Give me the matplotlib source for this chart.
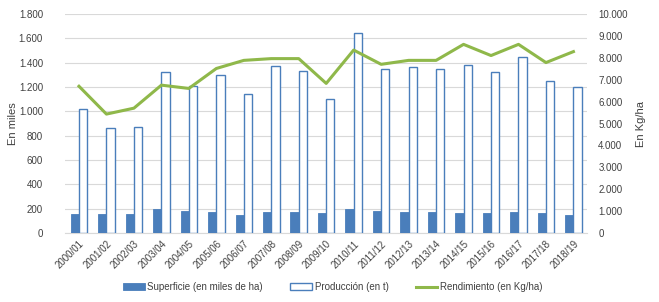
import matplotlib
matplotlib.use("Agg")
import matplotlib.pyplot as plt
import numpy as np
from matplotlib.ticker import FuncFormatter

plt.rcParams['font.family'] = ['Liberation Sans', 'DejaVu Sans']

campaigns = ["2000/01", "2001/02", "2002/03", "2003/04", "2004/05", "2005/06", "2006/07",
             "2007/08", "2008/09", "2009/10", "2010/11", "2011/12", "2012/13", "2013/14",
             "2014/15", "2015/16", "2016/17", "2017/18", "2018/19"]
superficie = [160, 160, 160, 197, 180, 175, 145, 175, 175, 165, 197, 178, 175, 175,
              165, 165, 175, 165, 145]
produccion = [1020, 860, 870, 1320, 1212, 1295, 1140, 1370, 1335, 1100, 1640, 1345,
              1360, 1345, 1377, 1322, 1444, 1253, 1196]
rendimiento = [6700, 5430, 5700, 6750, 6600, 7510, 7880, 7960, 7960, 6830, 8350, 7700,
               7880, 7880, 8610, 8100, 8610, 7780, 8280]

blue = "#4a7ebb"
green = "#8fb84a"
grid = "#d9d9d9"
txt = "#404040"

fig = plt.figure(figsize=(6.59, 3.02), dpi=100)
ax = fig.add_axes([0.099, 0.228, 0.792, 0.726])
ax2 = ax.twinx()

x = np.arange(len(campaigns))
w = 0.3
ax.bar(x - w / 2, superficie, width=w, color=blue, edgecolor=blue, linewidth=0.6,
       label="Superficie (en miles de ha)", zorder=3)
ax.bar(x + w / 2, produccion, width=w, facecolor="white", edgecolor=blue, linewidth=1.0,
       label="Producción (en t)", zorder=3)
ax2.plot(x, rendimiento, color=green, linewidth=2.2, label="Rendimiento (en Kg/ha)", zorder=4)

fmt = FuncFormatter(lambda v, p: f"{int(v):,}".replace(",", "."))
ax.set_ylim(0, 1800)
ax.set_yticks(np.arange(0, 1801, 200))
ax.yaxis.set_major_formatter(fmt)
ax2.set_ylim(0, 10000)
ax2.set_yticks(np.arange(0, 10001, 1000))
ax2.yaxis.set_major_formatter(fmt)
ax.set_xlim(-0.5, len(campaigns) - 0.5)
ax.set_xticks(x)
ax.set_xticklabels(campaigns, rotation=45, ha="right", rotation_mode="anchor", fontsize=7, color=txt)

ax.grid(axis="y", color=grid, linewidth=0.8, zorder=0)
ax.set_axisbelow(True)
for a in (ax, ax2):
    for s in a.spines.values():
        s.set_visible(False)
    a.tick_params(length=0, labelsize=7, colors=txt)
ax.spines["bottom"].set_visible(True)
ax.spines["bottom"].set_color(grid)
ax.tick_params(axis="x", pad=4)
ax.tick_params(axis="y", pad=16)
ax2.tick_params(axis="y", pad=8)

ax.set_ylabel("En miles", fontsize=8, color=txt)
ax.yaxis.set_label_coords(-0.09, 0.5)
ax2.set_ylabel("En Kg/ha", fontsize=8, color=txt)
ax2.yaxis.set_label_coords(1.094, 0.5)

h1, l1 = ax.get_legend_handles_labels()
h2, l2 = ax2.get_legend_handles_labels()
fig.legend(h1 + h2, l1 + l2, loc="center", bbox_to_anchor=(0.505, 0.05), ncol=3,
           frameon=False, fontsize=7, handlelength=2.2, handleheight=0.6,
           columnspacing=2.8, handletextpad=0.3, labelcolor=txt)

fig.savefig("out.png", dpi=100)
